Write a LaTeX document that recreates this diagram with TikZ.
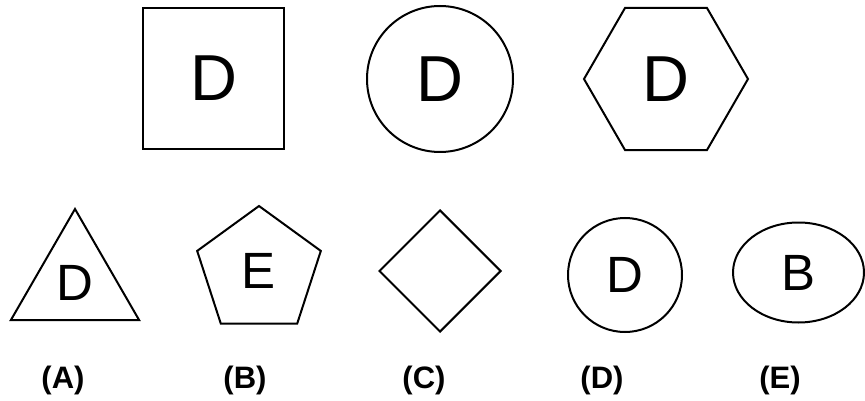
\documentclass[tikz,border=0pt]{standalone}
\usepackage{fontspec}
\setmainfont{Liberation Sans}
\usetikzlibrary{shapes.geometric}
\tikzset{
  shp/.style={draw,line width=2pt,inner sep=0pt,font=\fontsize{51}{60}\selectfont},
  bigshp/.style={shp,font=\fontsize{65}{78}\selectfont},
  lbl/.style={inner sep=0pt,font=\bfseries\fontsize{31}{37}\selectfont}
}
\begin{document}
\begin{tikzpicture}[x=1pt,y=-1pt]
\useasboundingbox[fill=white] (0,0) rectangle (865,401);
% upper row
\node[bigshp,rectangle,minimum size=141pt] (sq) at (213.5,78.5) {D};
\node[bigshp,circle,minimum size=146pt] (circ) at (440,79) {D};
\node[bigshp,regular polygon,regular polygon sides=6,minimum size=164pt] (hex) at (666,79) {D};
% lower row
\node[shp,regular polygon,regular polygon sides=3,minimum size=148pt] (tri) at (75,283) {D};
\node[shp,regular polygon,regular polygon sides=5,minimum size=130pt] (pent) at (259,271) {E};
\node[shp,diamond,minimum width=122pt,minimum height=122pt] (dia) at (440,271) {};
\node[shp,circle,minimum size=114pt] (circb) at (625,275) {D};
\node[shp,ellipse,minimum width=131pt,minimum height=100pt] (ell) at (798.5,272.5) {B};
% captions
\node[lbl] (la) at (63,380) {(A)};
\node[lbl] (lb) at (245,380) {(B)};
\node[lbl] (lc) at (424,380) {(C)};
\node[lbl] (ld) at (602,380) {(D)};
\node[lbl] (le) at (780,380) {(E)};
\end{tikzpicture}
\end{document}
